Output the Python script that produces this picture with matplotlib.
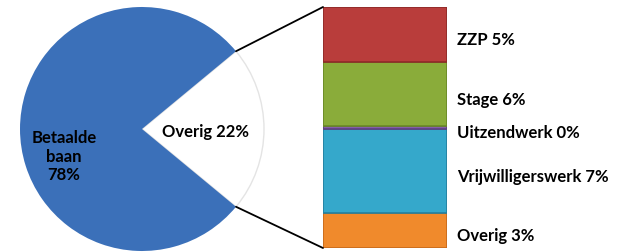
import matplotlib
matplotlib.use("Agg")
import matplotlib.pyplot as plt
from matplotlib.patches import ConnectionPatch
import numpy as np

# pie: betaalde baan vs overig
pie_labels = ["Overig 22%", "Betaalde\nbaan\n78%"]
pie_values = [22, 78]
pie_colors = ["#ffffff", "#3b70b9"]

# breakdown of "overig" (bottom to top)
bar_labels = ["Overig 3%", "Vrijwilligerswerk 7%", "Uitzendwerk 0%", "Stage 6%", "ZZP 5%"]
bar_values = [3.2, 7.6, 0.3, 5.8, 5.0]
bar_colors = ["#f08a2c", "#35a8cb", "#8460a8", "#8aac3a", "#b93d3b"]
bar_edges = ["#c86a1a", "#23809f", "#5e3f82", "#6a8a26", "#8e2a28"]

plt.rcParams['font.family'] = ['Lato', 'DejaVu Sans']

fig = plt.figure(figsize=(6.2, 2.53), dpi=100)
ax_pie = fig.add_axes([20 / 620, 0 / 253, 244 / 620, 246 / 253])
ax_bar = fig.add_axes([323 / 620, 4 / 253, 124 / 620, 241 / 253])

half = pie_values[0] / 100 * 180
wedges, _ = ax_pie.pie(pie_values, colors=pie_colors, startangle=-half, radius=1,
                       wedgeprops=dict(linewidth=0))
wedges[0].set_edgecolor("#e4e4e4")
wedges[0].set_linewidth(1.0)
ax_pie.set_xlim(-1, 1)
ax_pie.set_ylim(-1, 1)
ax_pie.axis("off")

ax_pie.text(0.52, -0.02, pie_labels[0], ha="center", va="center",
            fontsize=12, fontweight="bold")
ax_pie.text(-0.64, -0.22, pie_labels[1], ha="center", va="center",
            fontsize=12, fontweight="bold", linespacing=1.2)

total = sum(bar_values)
bottom = 0
for val, lab, col, ec in zip(bar_values, bar_labels, bar_colors, bar_edges):
    ax_bar.bar(0, val, bottom=bottom, width=1, color=col, edgecolor=ec, linewidth=1.2)
    ax_bar.text(0.58, bottom + val / 2 - 0.45, lab, ha="left", va="center",
                fontsize=12, fontweight="bold", clip_on=False)
    bottom += val
ax_bar.set_xlim(-0.5, 0.5)
ax_bar.set_ylim(0, total)
ax_bar.axis("off")

# connector lines from pie slice to bar
theta = np.deg2rad(half)
for y_pie, y_bar in [(np.sin(theta), total), (-np.sin(theta), 0)]:
    con = ConnectionPatch(xyA=(np.cos(theta), y_pie), coordsA=ax_pie.transData,
                          xyB=(-0.5, y_bar), coordsB=ax_bar.transData,
                          color="black", linewidth=1.3)
    fig.add_artist(con)

fig.savefig("out.png", dpi=100)
